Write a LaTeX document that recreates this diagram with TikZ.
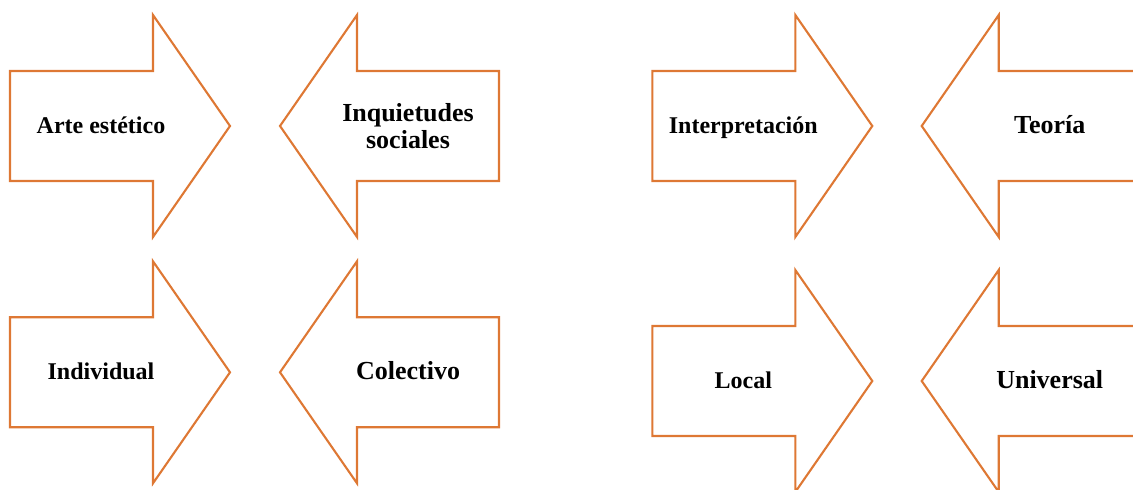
\documentclass[tikz,border=0pt]{standalone}
\usepackage{fontspec}
\setmainfont{Liberation Serif}
\usepackage{tikz}
\definecolor{naranja}{RGB}{222,120,52}
\tikzset{flecha/.style={draw=naranja, line width=1.05pt},
  rotulo/.style={font=\bfseries\fontsize{12}{13.7}\selectfont, align=center, inner sep=0pt, anchor=base},
  rotulo grande/.style={rotulo, font=\bfseries\fontsize{13}{13.7}\selectfont}}
% arrow pointing right: [label opts], name, left edge, centre line, text
\newcommand{\rarrow}[5][]{%
  \draw[flecha] (#3,#4-55) -- ++(143,0) -- ++(0,-56) -- (#3+220,#4) -- (#3+143,#4+111) -- ++(0,-56) -- (#3,#4+55) -- cycle;
  \node[rotulo, #1] (#2) at (#3+91,#4+7.5) {#5};}
% arrow pointing left: [label opts], name, tip, centre line, text
\newcommand{\larrow}[5][]{%
  \draw[flecha] (#3,#4) -- (#3+77,#4-111) -- ++(0,56) -- (#3+219,#4-55) -- ++(0,110) -- (#3+77,#4+55) -- ++(0,56) -- cycle;
  \node[rotulo grande, #1] (#2) at (#3+128,#4+7.5) {#5};}

\begin{document}
\begin{tikzpicture}[x=0.5pt, y=-0.5pt]
\useasboundingbox (0,0) rectangle (1133,490);

% left pair of oppositions
\rarrow{arte}{10}{126}{Arte estético}
\larrow[anchor=center, yshift=3.75pt]{inquietudes}{280}{126}{Inquietudes\\sociales}
\rarrow{individual}{10}{372.3}{Individual}
\larrow{colectivo}{280}{372.3}{Colectivo}

% right pair of oppositions
\rarrow{interpretacion}{652.3}{126}{Interpretación}
\larrow{teoria}{921.7}{126}{Teoría}
\rarrow{local}{652.3}{381}{Local}
\larrow{universal}{921.7}{381}{Universal}
\end{tikzpicture}
\end{document}
